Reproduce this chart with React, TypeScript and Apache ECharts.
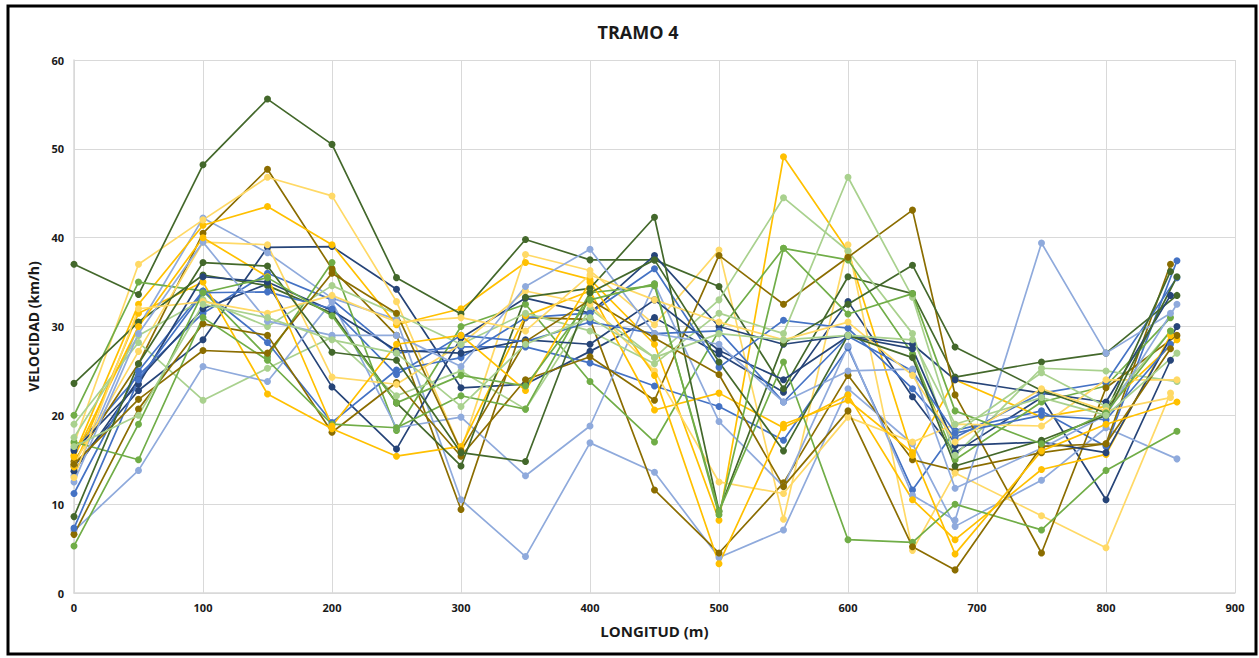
import React, { useEffect, useRef } from "react";
import * as echarts from "echarts";

// Longitud (m) of each measured station along the stretch
const stations = [0, 50, 100, 150, 200, 250, 300, 350, 400, 450, 500, 550, 600, 650, 683, 750, 800];
// Last station of each run (the end point differs slightly between runs)
const lastStation = [850, 855, 855, 850, 855, 850, 855, 850, 855, 850, 855, 850, 855, 850, 855, 850, 855, 850, 855, 850, 855, 850, 855, 850, 855, 850, 855];

const palette = {
  darkGreen: "#43682B",
  green: "#70AD47",
  lightGreen: "#A9D18E",
  darkBlue: "#264478",
  blue: "#4472C4",
  lightBlue: "#8FAADC",
  darkGold: "#8B6D00",
  gold: "#FFC000",
  lightGold: "#FFD966",
};

// Velocidad (km/h) per run, one value per station plus the end point
const dg1 = [37, 33.6, 48.2, 55.6, 50.5, 35.5, 31.4, 39.8, 37.5, 37.5, 34.5, 23, 35.6, 33.7, 24.3, 26, 27, 33.5];
const dg2 = [23.6, 30.5, 35.8, 34.6, 31.5, 21.4, 14.3, 33.3, 34.3, 42.3, 9.2, 28.1, 32.5, 36.9, 27.7, 22.8, 20.3, 36.2];
const dg3 = [8.6, 25.8, 37.2, 36.8, 27.1, 26.2, 15.8, 14.8, 33.8, 37.5, 26, 16, 29, 26.5, 14.3, 17.2, 20, 35.6];
const g1 = [20, 35, 34, 26.6, 37.2, 18.3, 30, 32.5, 23.8, 17, 29.5, 38.8, 37.5, 26.9, 15, 21.5, 23.3, 31];
const g2 = [17, 15, 31, 26.2, 19, 18.6, 22.2, 20.7, 33.8, 34.6, 9.2, 26, 6, 5.7, 10, 7.1, 13.8, 18.2];
const g3 = [5.3, 19, 33.8, 35.5, 31.2, 21.4, 24.5, 23.3, 33, 34.8, 8.8, 38.8, 31.4, 33.7, 20.5, 16.8, 20.3, 29.5];
const lg1 = [19, 28.2, 21.7, 25.3, 28.8, 22.2, 25, 20.7, 32, 26.5, 33, 44.5, 38.5, 29.2, 15.5, 25.3, 25, 23.8];
const lg2 = [17.5, 29, 33, 30, 34.6, 31.4, 28, 31.5, 29.5, 25.8, 31.5, 29.2, 46.8, 33.3, 18, 24.8, 21, 29.5];
const lg3 = [16.5, 20, 32.5, 31, 28.5, 27, 21, 28, 31, 26.5, 29.2, 28.5, 29, 28.5, 19, 22, 20, 27];
const db1 = [14.3, 22.8, 28.5, 38.9, 39, 34.2, 23.1, 23.5, 27.2, 31, 26.9, 22.6, 32.8, 22.1, 15.8, 22, 10.5, 26.2];
const db2 = [13.7, 24, 32, 34.8, 23.2, 16.2, 28.7, 33.2, 31.5, 38, 30, 28, 29, 28, 24, 22.5, 21.5, 33.5];
const db3 = [16, 23.5, 35.6, 35, 31.8, 27.3, 27, 28.5, 28, 33, 27.3, 24, 28.9, 27.5, 16.6, 17, 15.8, 30];
const b1 = [16.2, 24.5, 31.5, 36, 33, 27, 27.7, 27.7, 25.9, 23.3, 21, 17.2, 27.6, 11.6, 18.3, 20.5, 16.5, 37.4];
const b2 = [11.2, 25, 34, 28.2, 19.2, 25.1, 26.5, 31, 31.5, 36.5, 25.4, 30.7, 29.8, 23, 17.5, 22.5, 23.7, 35.5];
const b3 = [7.3, 24, 33.8, 33.9, 32, 24.6, 29, 28.3, 30.5, 29.2, 29.5, 21.5, 28.9, 25, 18, 20, 19.5, 28];
const lb1 = [13.2, 30, 42.2, 38.3, 33.2, 30.8, 10.5, 4.1, 16.9, 13.6, 4, 7.1, 23, 16.8, 7.5, 12.7, 18.6, 15.1];
const lb2 = [7, 13.8, 25.5, 23.8, 32.8, 18.6, 19.8, 13.2, 18.8, 34.8, 19.3, 12, 27.8, 11, 8.2, 39.4, 27, 31.5];
const lb3 = [12.5, 29.2, 39.5, 30.6, 29, 29, 25.5, 34.5, 38.7, 29.2, 28, 21.5, 25, 25.2, 11.8, 16.3, 20, 32.5];
const do1 = [14.8, 25.8, 40.5, 47.7, 36.5, 29, 9.4, 31, 30.8, 11.6, 4.5, 12.4, 24.5, 15, 13.8, 15.8, 16.8, 37];
const do2 = [6.6, 20.7, 30.3, 29, 18.1, 23.7, 15.4, 24, 26.6, 21.7, 38, 32.5, 37.8, 43.1, 22.3, 4.5, 23.1, 29];
const do3 = [14.5, 21.8, 27.3, 27, 36, 31.5, 16, 28.3, 33, 28.7, 24.6, 12, 20.5, 5.2, 2.6, 16.5, 16.8, 27.5];
const o1 = [15.5, 32.5, 41.4, 43.5, 39.2, 30.2, 32, 37.2, 35.3, 28, 8.2, 49.1, 38.5, 15.5, 24, 19.8, 21, 28.5];
const o2 = [14.2, 31.5, 35, 22.4, 18.5, 15.4, 16.5, 31.2, 34, 20.6, 22.5, 18.6, 22.3, 10.5, 6, 13.9, 15.6, 29];
const o3 = [15.3, 30, 40, 35.6, 18.8, 28, 29, 22.8, 35, 24.5, 3.3, 19, 21.7, 15.8, 4.4, 16, 19, 21.5];
const lo1 = [16.8, 37, 42, 46.8, 44.7, 32.8, 16, 38.1, 36.3, 30.2, 38.6, 8.3, 39.2, 4.8, 13.5, 8.7, 5.1, 22.5];
const lo2 = [14.5, 27.2, 39.5, 39.2, 24.3, 23.5, 28, 34, 32.5, 25, 12.5, 11.2, 19.8, 17, 19, 18.8, 24, 24];
const lo3 = [13, 32, 32.8, 31.5, 33.5, 30.5, 31, 29.5, 35.8, 33, 30.5, 28.5, 30.5, 24.5, 17, 23, 20.5, 22];

const runs: { values: number[]; color: string }[] = [
  { values: db1, color: palette.darkBlue },
  { values: b1, color: palette.blue },
  { values: lb1, color: palette.lightBlue },
  { values: do1, color: palette.darkGold },
  { values: o1, color: palette.gold },
  { values: lo1, color: palette.lightGold },
  { values: dg1, color: palette.darkGreen },
  { values: g1, color: palette.green },
  { values: lg1, color: palette.lightGreen },
  { values: db2, color: palette.darkBlue },
  { values: b2, color: palette.blue },
  { values: lb2, color: palette.lightBlue },
  { values: do2, color: palette.darkGold },
  { values: o2, color: palette.gold },
  { values: lo2, color: palette.lightGold },
  { values: dg2, color: palette.darkGreen },
  { values: g2, color: palette.green },
  { values: lg2, color: palette.lightGreen },
  { values: db3, color: palette.darkBlue },
  { values: b3, color: palette.blue },
  { values: lb3, color: palette.lightBlue },
  { values: do3, color: palette.darkGold },
  { values: o3, color: palette.gold },
  { values: lo3, color: palette.lightGold },
  { values: dg3, color: palette.darkGreen },
  { values: g3, color: palette.green },
  { values: lg3, color: palette.lightGreen },
];

const FONT = "'Open Sans', 'Liberation Sans', sans-serif";

export default function App() {
  const ref = useRef<HTMLDivElement>(null);

  useEffect(() => {
    if (!ref.current) return;
    const chart = echarts.init(ref.current, undefined, { renderer: "svg" });

    const series = runs.map((run, k) => ({
      type: "line",
      name: `Pasada ${k + 1}`,
      data: run.values.map((v, i) => [i < stations.length ? stations[i] : lastStation[k], v]),
      symbol: "circle",
      symbolSize: 7,
      showSymbol: true,
      lineStyle: { color: run.color, width: 1.7 },
      itemStyle: { color: run.color },
      z: 3,
    }));

    chart.setOption({
      animation: false,
      backgroundColor: "#ffffff",
      title: {
        text: "TRAMO 4",
        left: 633,
        top: 18,
        textAlign: "center",
        textStyle: { fontFamily: FONT, fontSize: 18, fontWeight: "bold", color: "#1a1a1a" },
      },
      graphic: [
        {
          type: "rect",
          shape: { x: 8, y: 6, width: 1248, height: 648 },
          style: { fill: "none", stroke: "#000000", lineWidth: 3 },
          z: 100,
        },
      ],
      grid: { left: 74, right: 24, top: 60, bottom: 65 },
      xAxis: {
        type: "value",
        min: 0,
        max: 900,
        interval: 100,
        name: "LONGITUD (m)",
        nameLocation: "middle",
        nameGap: 30,
        nameTextStyle: { fontFamily: FONT, fontSize: 15, fontWeight: "bold", color: "#1a1a1a" },
        axisLine: { show: true, lineStyle: { color: "#d9d9d9", width: 1.5 } },
        axisTick: { show: false },
        axisLabel: { fontFamily: FONT, fontSize: 11, fontWeight: "bold", color: "#1a1a1a", margin: 9 },
        splitLine: { show: true, lineStyle: { color: "#d9d9d9", width: 1 } },
      },
      yAxis: {
        type: "value",
        min: 0,
        max: 60,
        interval: 10,
        name: "VELOCIDAD (km/h)",
        nameLocation: "middle",
        nameGap: 28,
        nameTextStyle: { fontFamily: FONT, fontSize: 14, fontWeight: "bold", color: "#1a1a1a" },
        axisLine: { show: true, lineStyle: { color: "#d9d9d9", width: 1.5 } },
        axisTick: { show: false },
        axisLabel: { fontFamily: FONT, fontSize: 11, fontWeight: "bold", color: "#1a1a1a", margin: 10 },
        splitLine: { show: true, lineStyle: { color: "#d9d9d9", width: 1 } },
      },
      series,
    });

    return () => chart.dispose();
  }, []);

  return (
    <div style={{ position: "fixed", left: 0, top: 0, width: 1259, height: 658, background: "#fff" }}>
      <div ref={ref} style={{ width: 1259, height: 658 }} />
    </div>
  );
}
